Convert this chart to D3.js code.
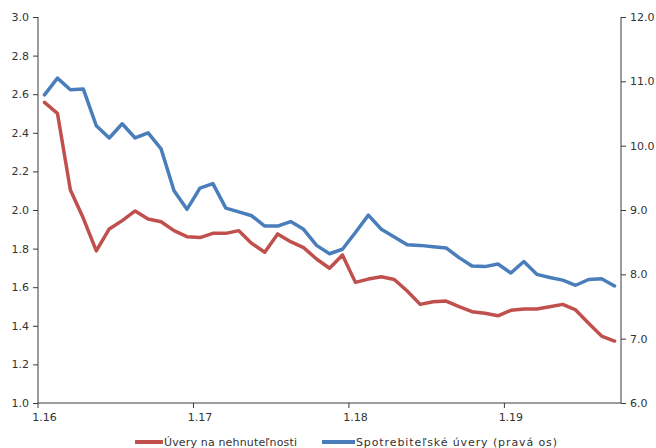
<!DOCTYPE html>
<html>
<head>
<meta charset="utf-8">
<script src="https://cdn.jsdelivr.net/npm/d3@7"></script>
<style>
  html, body { margin: 0; padding: 0; background: #fff; }
  svg { display: block; font-family: "DejaVu Sans", Verdana, sans-serif; }
</style>
</head>
<body>
<svg id="chart" width="656" height="448"></svg>
<script>
const categories = [
  "1.16","2.16","3.16","4.16","5.16","6.16","7.16","8.16","9.16","10.16","11.16","12.16",
  "1.17","2.17","3.17","4.17","5.17","6.17","7.17","8.17","9.17","10.17","11.17","12.17",
  "1.18","2.18","3.18","4.18","5.18","6.18","7.18","8.18","9.18","10.18","11.18","12.18",
  "1.19","2.19","3.19","4.19","5.19","6.19","7.19","8.19","9.19"
];
const mortgageLoans = [2.558, 2.501, 2.104, 1.957, 1.788, 1.902, 1.945, 1.995, 1.953, 1.939, 1.893, 1.862,
  1.857, 1.879, 1.879, 1.893, 1.827, 1.781, 1.876, 1.836, 1.805, 1.746, 1.698, 1.767,
  1.625, 1.642, 1.654, 1.640, 1.580, 1.511, 1.525, 1.528, 1.499, 1.473, 1.465, 1.452,
  1.480, 1.487, 1.487, 1.499, 1.511, 1.482, 1.413, 1.347, 1.321];
const consumerLoans = [10.79, 11.05, 10.87, 10.88, 10.31, 10.12, 10.34, 10.12, 10.20, 9.95, 9.30, 9.01,
  9.34, 9.41, 9.03, 8.97, 8.91, 8.75, 8.75, 8.82, 8.70, 8.45, 8.32, 8.39,
  8.65, 8.92, 8.70, 8.58, 8.46, 8.45, 8.43, 8.41, 8.26, 8.13, 8.12, 8.16,
  8.02, 8.20, 8.00, 7.95, 7.91, 7.83, 7.92, 7.93, 7.82];
const xTickLabels = ["1.16", "1.17", "1.18", "1.19"];
const leftTicks = [1.0, 1.2, 1.4, 1.6, 1.8, 2.0, 2.2, 2.4, 2.6, 2.8, 3.0];
const rightTicks = [6.0, 7.0, 8.0, 9.0, 10.0, 11.0, 12.0];
const seriesNames = ["Úvery na nehnuteľnosti", "Spotrebiteľské úvery (pravá os)"];
const seriesColors = ["#C0504D", "#4A7EBB"];

(function () {
const svg = d3.select("#chart");
const pL = 38, pR = 621, pT = 17, pB = 403;
const axisColor = "#3a3a3a", textColor = "#333";

const x = d3.scaleBand().domain(categories).range([pL, pR]).paddingInner(0).paddingOuter(0);
const yL = d3.scaleLinear().domain([1, 3]).range([pB, pT]);
const yR = d3.scaleLinear().domain([6, 12]).range([pB, pT]);
const cx = c => x(c) + x.bandwidth() / 2;

const gL = svg.append("g").attr("transform", `translate(${pL},0)`)
  .call(d3.axisLeft(yL).tickValues(leftTicks).tickFormat(d3.format(".1f")).tickSizeOuter(0).tickSize(5).tickPadding(4));
const gR = svg.append("g").attr("transform", `translate(${pR},0)`)
  .call(d3.axisRight(yR).tickValues(rightTicks).tickFormat(d3.format(".1f")).tickSizeOuter(0).tickSize(5).tickPadding(4));
gL.select(".domain").attr("d", `M0,${pT}V${pB}`);
gR.select(".domain").attr("d", `M0,${pT}V${pB}`);

const gB = svg.append("g").attr("transform", `translate(0,${pB})`);
gB.append("line").attr("x1", pL).attr("x2", pR).attr("y1", 0).attr("y2", 0);
gB.selectAll("line.tk").data(xTickLabels).enter().append("line").attr("class", "tk")
  .attr("x1", d => x(d)).attr("x2", d => x(d)).attr("y1", 0).attr("y2", 5);
gB.selectAll("text").data(xTickLabels).enter().append("text")
  .attr("x", d => cx(d)).attr("y", 14).attr("dy", "0.35em").attr("text-anchor", "middle")
  .text(d => d);

svg.selectAll(".domain").attr("stroke", axisColor).attr("stroke-width", 1).attr("fill", "none");
svg.selectAll("g line").attr("stroke", axisColor).attr("stroke-width", 1);
svg.selectAll("g text").attr("fill", textColor).attr("font-size", "11px")
  .attr("font-family", "DejaVu Sans, Verdana, sans-serif");

const lineL = d3.line().x((d, i) => cx(categories[i])).y(d => yL(d));
const lineR = d3.line().x((d, i) => cx(categories[i])).y(d => yR(d));
svg.append("path").datum(mortgageLoans).attr("d", lineL)
  .attr("fill", "none").attr("stroke", seriesColors[0]).attr("stroke-width", 3.5)
  .attr("stroke-linejoin", "round").attr("stroke-linecap", "round");
svg.append("path").datum(consumerLoans).attr("d", lineR)
  .attr("fill", "none").attr("stroke", seriesColors[1]).attr("stroke-width", 3.5)
  .attr("stroke-linejoin", "round").attr("stroke-linecap", "round");

const legendItems = [
  { name: seriesNames[0], color: seriesColors[0], x1: 135, x2: 163, w: 133 },
  { name: seriesNames[1], color: seriesColors[1], x1: 322, x2: 355, w: 201 }
];
const lg = svg.append("g");
legendItems.forEach(it => {
  lg.append("line").attr("x1", it.x1).attr("x2", it.x2).attr("y1", 442).attr("y2", 442)
    .attr("stroke", it.color).attr("stroke-width", 4);
  lg.append("text").attr("x", it.x2 + 1).attr("y", 442).attr("dy", "0.35em")
    .attr("fill", textColor).attr("font-size", "11px")
    .attr("textLength", it.w).attr("lengthAdjust", "spacing")
    .attr("font-family", "DejaVu Sans, Verdana, sans-serif").text(it.name);
});
})();
</script>
</body>
</html>
